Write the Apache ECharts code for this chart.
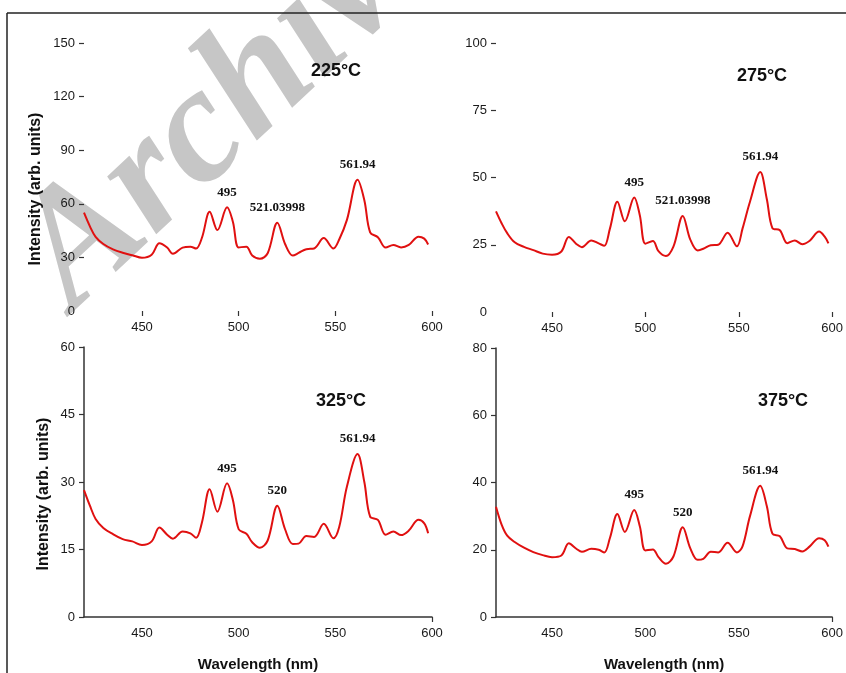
<!DOCTYPE html>
<html>
<head>
<meta charset="utf-8">
<script src="https://cdn.jsdelivr.net/npm/echarts@6/dist/echarts.min.js"></script>
<style>
html,body{margin:0;padding:0;background:#fff;}
#chart{width:846px;height:673px;}
</style>
</head>
<body>
<div id="chart"></div>
<script>
// Wavelength sample points (nm)
const wavelengths = [420, 423, 426, 430, 435, 440, 445, 450, 455, 459, 463, 466, 471, 475, 478, 481, 485, 489, 494, 497, 500, 504, 507, 511, 515, 520, 524, 528, 531, 535, 539, 544, 549, 552, 556, 561.5, 565, 568, 572, 576, 580, 584, 588, 593, 596, 598];

// Intensity (arb. units) per temperature
const int225 = [55, 47.5, 41.5, 37.5, 34.5, 32.6, 31.2, 29.8, 31.5, 37.9, 35.5, 32, 35.5, 36, 35, 41, 55.5, 45.3, 58, 50, 35.6, 36, 31, 29.2, 32.3, 49.4, 37.5, 31, 32.5, 34.6, 35, 40.8, 35, 40, 51, 73.4, 62, 44, 41.3, 35.5, 37, 35.6, 37, 41.6, 40.5, 37.2];
const int275 = [37.4, 33, 29.3, 25.9, 24.2, 23, 21.7, 21.3, 22.5, 27.9, 25.3, 24.1, 26.6, 25.5, 24.6, 31, 41, 33.7, 42.6, 36, 25.4, 26.4, 22.6, 20.8, 24.3, 35.7, 27, 22.9, 23.5, 24.8, 25, 29.5, 24.4, 31, 41, 52, 42, 31.2, 30.4, 25.6, 26.6, 25.2, 26.5, 29.9, 28, 25.5];
const int325 = [28.2, 24.8, 21.8, 19.8, 18.4, 17.3, 16.8, 16, 16.8, 19.9, 18.3, 17.4, 19, 18.6, 17.6, 21, 28.4, 23.4, 29.7, 26, 19.5, 18.5, 16.6, 15.4, 17, 24.7, 19.5, 16.2, 16.3, 18, 17.8, 20.7, 17.5, 20, 29, 36.2, 30, 22.3, 21.6, 18.3, 19, 18.2, 19.2, 21.6, 20.8, 18.6];
const int375 = [32.8, 27.5, 24.2, 22.3, 20.6, 19.3, 18.4, 17.8, 18.3, 21.9, 20.3, 19.4, 20.3, 20, 19.2, 23.5, 30.6, 25.3, 31.8, 27, 19.8, 20.1, 17.8, 15.8, 18, 26.7, 20.5, 17, 17.3, 19.4, 19.2, 22.1, 19.2, 21, 30, 39, 33, 24.8, 24, 20.4, 20.2, 19.5, 21, 23.4, 22.8, 20.9];

// Peak annotations: [wavelength of the peak sample, label text]
const peaks225 = [[494, '495'], [520, '521.03998'], [561.5, '561.94']];
const peaks275 = [[494, '495'], [520, '521.03998'], [561.5, '561.94']];
const peaks325 = [[494, '495'], [520, '520'], [561.5, '561.94']];
const peaks375 = [[494, '495'], [520, '520'], [561.5, '561.94']];

// Panel titles
const panelTitles = ['225°C', '275°C', '325°C', '375°C'];

// Tick values
const xTicks = [450, 500, 550, 600];
const yMax = [150, 100, 60, 80];
const yStep = [30, 25, 15, 20];

const seriesValues = [int225, int275, int325, int375];
const seriesPeaks = [peaks225, peaks275, peaks325, peaks375];

const chart = echarts.init(document.getElementById('chart'), null, {renderer: 'canvas'});

const grids = [
  {left: 84, top: 43, width: 348, height: 268},
  {left: 496, top: 43, width: 340, height: 269},
  {left: 84, top: 347, width: 348, height: 270},
  {left: 496, top: 348, width: 341, height: 269}
];

const sansLabel = {color: '#1a1a1a', fontSize: 13, fontFamily: 'Liberation Sans, Arial, sans-serif'};

const xAxes = grids.map((g, i) => {
  const bottom = i >= 2;
  return {
    type: 'value', gridIndex: i, min: 420, max: 600,
    splitLine: {show: false},
    axisLine: {show: bottom, lineStyle: {color: '#333', width: 1.5}},
    axisTick: {show: true, length: 5, customValues: bottom ? [600] : xTicks, lineStyle: {color: '#333', width: 1.2}},
    axisLabel: Object.assign({customValues: xTicks, margin: 10}, sansLabel),
    name: bottom ? 'Wavelength (nm)' : '',
    nameLocation: 'middle', nameGap: 40,
    nameTextStyle: {color: '#111', fontSize: 15, fontWeight: 'bold', fontFamily: 'Liberation Sans, Arial, sans-serif'}
  };
});

const yAxes = grids.map((g, i) => {
  const bottom = i >= 2;
  const ticks = [];
  for (let v = bottom ? 0 : yStep[i]; v <= yMax[i]; v += yStep[i]) ticks.push(v);
  return {
    type: 'value', gridIndex: i, min: 0, max: yMax[i], interval: yStep[i],
    splitLine: {show: false},
    axisLine: {show: bottom, lineStyle: {color: '#333', width: 1.5}},
    axisTick: {show: true, length: 5, customValues: ticks, lineStyle: {color: '#333', width: 1.2}},
    axisLabel: Object.assign({margin: 9}, sansLabel),
    name: (i === 0 || i === 2) ? 'Intensity (arb. units)' : '',
    nameLocation: 'middle', nameGap: i === 0 ? 40 : 32,
    nameTextStyle: {color: '#111', fontSize: 16, fontWeight: 'bold', fontFamily: 'Liberation Sans, Arial, sans-serif', padding: [0, 24, 0, 0]}
  };
});

const series = seriesValues.map((vals, i) => ({
  type: 'line', xAxisIndex: i, yAxisIndex: i,
  data: wavelengths.map((w, k) => [w, vals[k]]),
  smooth: 0.35, showSymbol: false, symbol: 'none',
  lineStyle: {color: '#e01010', width: 2},
  animation: false,
  markPoint: {
    symbol: 'circle', symbolSize: 1,
    itemStyle: {color: 'rgba(0,0,0,0)'},
    label: {show: true, position: 'top', distance: 8, color: '#111', fontSize: 13, fontWeight: 'bold', fontFamily: 'Liberation Serif, Times New Roman, serif'},
    data: seriesPeaks[i].map(([w, txt]) => ({
      coord: [w, vals[wavelengths.indexOf(w)]],
      label: {formatter: txt}
    }))
  }
}));

const titlePos = [[336, 71], [762, 76], [341, 401], [783, 401]];

chart.setOption({
  backgroundColor: '#fff',
  animation: false,
  grid: grids,
  xAxis: xAxes,
  yAxis: yAxes,
  series: series,
  graphic: [
    {
      type: 'text', z: -10, x: -12, y: 220, rotation: 0.75, silent: true,
      style: {text: 'Archive', fill: '#c6c6c6', font: 'italic bold 165px "Liberation Serif", serif'}
    },
    {type: 'line', shape: {x1: 7, y1: 13, x2: 846, y2: 13}, style: {stroke: '#222', lineWidth: 1.5}},
    {type: 'line', shape: {x1: 7, y1: 13, x2: 7, y2: 673}, style: {stroke: '#222', lineWidth: 1.5}}
  ].concat(panelTitles.map((t, i) => ({
    type: 'text', x: titlePos[i][0], y: titlePos[i][1],
    style: {text: t, fill: '#111', font: 'bold 18px "Liberation Sans", Arial, sans-serif', textAlign: 'center', textVerticalAlign: 'middle'}
  })))
});
</script>
</body>
</html>
